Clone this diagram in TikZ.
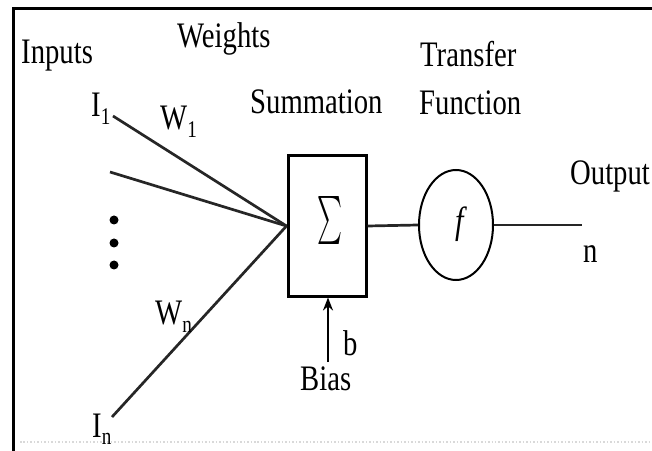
\documentclass[tikz,border=0pt]{standalone}
\usepackage{fontspec}
\setmainfont{Liberation Serif}[FakeStretch=0.8]
\usepackage{graphicx}
\usetikzlibrary{arrows.meta, positioning, shapes.geometric}
\newcommand{\lowidx}[1]{\raisebox{-0.22em}{\fontsize{24}{24}\selectfont #1}}

\begin{document}
\begin{tikzpicture}[
  x=1bp, y=-1bp,
  lbl/.style  = {anchor=base west, inner sep=0pt, font=\fontsize{36}{38}\selectfont},
  sumbox/.style = {rectangle, draw=black, line width=3bp,
                   minimum width=78bp, minimum height=140bp, inner sep=0pt},
  tfbox/.style  = {ellipse, draw=black, line width=2bp,
                   minimum width=74bp, minimum height=110bp, inner sep=0pt},
  wire/.style = {line width=2.7bp, draw=black!85},
  arr/.style  = {-{Stealth[length=13bp, width=10bp]}, line width=2bp}
]
\useasboundingbox (0,0) rectangle (652,451);

% frame
\draw[line width=3bp] (13,451) -- (13,9) -- (652,9);
\draw[gray!30, dotted, line width=1.5bp] (20,442) -- (652,442);

% blocks
\node[sumbox] (sum) at (327,226) {};
\node[inner sep=0pt] (sig) at (330,221) {\resizebox*{25bp}{48bp}{$\sum$}};
\node[tfbox] (tf) at (456,225) {};
\node[inner sep=0pt, font=\fontsize{38}{38}\selectfont\itshape] (fn) at (460,224) {f};

\coordinate (i1) at (113,116);
\coordinate (i2) at (110,172);
\coordinate (in) at (112,417);
\coordinate (out) at (582,225);
\coordinate (bias) at (328,362);

\foreach \y in {220,243,265}
  \fill (114,\y) circle[radius=4.5bp];

% connections
\draw[wire] (i1) -- (sum.west);
\draw[wire] (i2) -- (sum.west);
\draw[wire] (in) -- (sum.west);
\draw[wire] (sum.east) -- (tf.west);
\draw[wire] (tf.east) -- (out);
\draw[arr] (bias) -- (bias |- sum.south);

% labels
\node[lbl] (linputs) at (21,64) {Inputs};
\node[lbl] (lweights) at (177,48) {Weights};
\node[lbl] (lsum) at (250,114) {Summation};
\node[lbl] (ltrans) at (420,67) {Transfer};
\node[lbl] (lfunc) at (419,115) {Function};
\node[lbl] (lout) at (570,185) {Output};
\node[lbl] (ln) at (583,263) {n};
\node[lbl] (lb) at (343,355) {b};
\node[lbl] (lbias) at (300,390) {Bias};
\node[lbl] (li1) at (91,117) {I\lowidx{1}};
\node[lbl] (lw1) at (160,130) {W\lowidx{1}};
\node[lbl] (lwn) at (155,325) {W\lowidx{n}};
\node[lbl] (lin) at (92,437) {I\lowidx{n}};

\end{tikzpicture}
\end{document}
